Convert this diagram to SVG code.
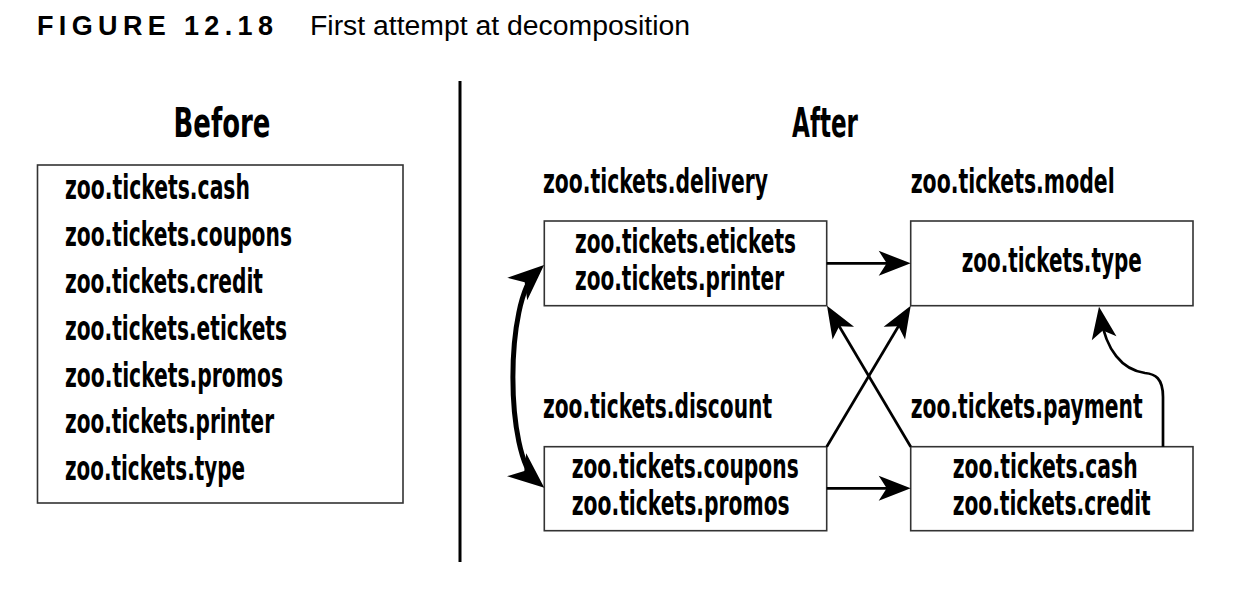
<svg xmlns="http://www.w3.org/2000/svg" width="1245" height="590" viewBox="0 0 1245 590">
<style>
.cap{font-family:"Liberation Sans",Arial,sans-serif;fill:#000}
.t{font-family:"Liberation Sans Narrow","DejaVu Sans Condensed","Liberation Sans",sans-serif;font-weight:bold;font-stretch:condensed;font-size:34px;fill:#000}
.h{font-family:"Liberation Sans Narrow","DejaVu Sans Condensed","Liberation Sans",sans-serif;font-weight:bold;font-stretch:condensed;font-size:41px;fill:#000}
.box{fill:#fff;stroke:#333;stroke-width:1.6}
.ln{fill:none;stroke:#000;stroke-width:2.7}
.thick{fill:none;stroke:#000;stroke-width:5}
</style>
<defs>
<marker id="ah" markerUnits="userSpaceOnUse" viewBox="-42 -14 44 28" markerWidth="44" markerHeight="28" refX="-10" refY="0" orient="auto">
<path d="M0,0 L-32,-12.5 L-24,0 L-32,12.5 Z" fill="#000"/>
</marker>
<marker id="ahb" markerUnits="userSpaceOnUse" viewBox="-44 -17 46 34" markerWidth="46" markerHeight="34" refX="-10" refY="0" orient="auto-start-reverse">
<path d="M0,0 L-36,-15 L-26,0 L-36,15 Z" fill="#000"/>
</marker>
</defs>

<g id="caption">
<text class="cap" x="37" y="35" font-size="27" font-weight="bold" textLength="236" lengthAdjust="spacing">FIGURE 12.18</text>
<text class="cap" x="310" y="35" font-size="27" textLength="380" lengthAdjust="spacingAndGlyphs">First attempt at decomposition</text>
</g>

<line id="divider" x1="460" y1="81" x2="460" y2="562" stroke="#000" stroke-width="3"/>

<g id="before">
<text class="h" transform="translate(222,137) scale(0.68,1)" text-anchor="middle" textLength="142.6" lengthAdjust="spacingAndGlyphs">Before</text>
<rect class="box" x="37.5" y="165" width="365.5" height="338"/>
<text class="t" transform="translate(65,199) scale(0.68,1)" textLength="272" lengthAdjust="spacingAndGlyphs">zoo.tickets.cash</text>
<text class="t" transform="translate(65,246) scale(0.68,1)" textLength="333.8" lengthAdjust="spacingAndGlyphs">zoo.tickets.coupons</text>
<text class="t" transform="translate(65,293) scale(0.68,1)" textLength="291.2" lengthAdjust="spacingAndGlyphs">zoo.tickets.credit</text>
<text class="t" transform="translate(65,340) scale(0.68,1)" textLength="326.5" lengthAdjust="spacingAndGlyphs">zoo.tickets.etickets</text>
<text class="t" transform="translate(65,387) scale(0.68,1)" textLength="320.6" lengthAdjust="spacingAndGlyphs">zoo.tickets.promos</text>
<text class="t" transform="translate(65,433) scale(0.68,1)" textLength="307.4" lengthAdjust="spacingAndGlyphs">zoo.tickets.printer</text>
<text class="t" transform="translate(65,480) scale(0.68,1)" textLength="264.7" lengthAdjust="spacingAndGlyphs">zoo.tickets.type</text>
</g>

<text id="after-title" class="h" transform="translate(825,137) scale(0.68,1)" text-anchor="middle" textLength="97" lengthAdjust="spacingAndGlyphs">After</text>

<g id="delivery">
<text class="t" transform="translate(543,193) scale(0.68,1)" textLength="330.9" lengthAdjust="spacingAndGlyphs">zoo.tickets.delivery</text>
<rect class="box" x="544.3" y="221" width="282.4" height="84.7"/>
<text class="t" transform="translate(575,253) scale(0.68,1)" textLength="325" lengthAdjust="spacingAndGlyphs">zoo.tickets.etickets</text>
<text class="t" transform="translate(575,290) scale(0.68,1)" textLength="307.4" lengthAdjust="spacingAndGlyphs">zoo.tickets.printer</text>
</g>

<g id="model">
<text class="t" transform="translate(910.7,193) scale(0.68,1)" textLength="300" lengthAdjust="spacingAndGlyphs">zoo.tickets.model</text>
<rect class="box" x="910.7" y="221" width="282.3" height="84.7"/>
<text class="t" transform="translate(961.7,272) scale(0.68,1)" textLength="264.7" lengthAdjust="spacingAndGlyphs">zoo.tickets.type</text>
</g>

<g id="discount">
<text class="t" transform="translate(543,418) scale(0.68,1)" textLength="336.8" lengthAdjust="spacingAndGlyphs">zoo.tickets.discount</text>
<rect class="box" x="544.3" y="446.7" width="282.4" height="84"/>
<text class="t" transform="translate(571.7,478) scale(0.68,1)" textLength="333.8" lengthAdjust="spacingAndGlyphs">zoo.tickets.coupons</text>
<text class="t" transform="translate(571.7,515) scale(0.68,1)" textLength="320.6" lengthAdjust="spacingAndGlyphs">zoo.tickets.promos</text>
</g>

<g id="payment">
<text class="t" transform="translate(910.7,418) scale(0.68,1)" textLength="341.2" lengthAdjust="spacingAndGlyphs">zoo.tickets.payment</text>
<rect class="box" x="910.7" y="446.7" width="282.3" height="84"/>
<text class="t" transform="translate(952.7,478) scale(0.68,1)" textLength="272" lengthAdjust="spacingAndGlyphs">zoo.tickets.cash</text>
<text class="t" transform="translate(952.7,515) scale(0.68,1)" textLength="291.2" lengthAdjust="spacingAndGlyphs">zoo.tickets.credit</text>
</g>

<g id="connectors">
<path class="ln" d="M826.7,263.3 L900.7,263.3" marker-end="url(#ah)"/>
<path class="ln" d="M826.7,488.3 L900.7,488.3" marker-end="url(#ah)"/>
<path class="ln" d="M826.7,446.7 L905.6,314.3" marker-end="url(#ah)"/>
<path class="ln" d="M910.7,446.7 L832.1,314.3" marker-end="url(#ah)"/>
<path class="ln" d="M1163,446.7 L1163,397 C1163,378 1155,374 1145,373 C1122,370 1106,350 1100.6,316.6" marker-end="url(#ah)"/>
<path class="thick" d="M536.6,271.7 C505,300 505,455 536.6,481.3" marker-start="url(#ahb)" marker-end="url(#ahb)"/>
</g>
</svg>
